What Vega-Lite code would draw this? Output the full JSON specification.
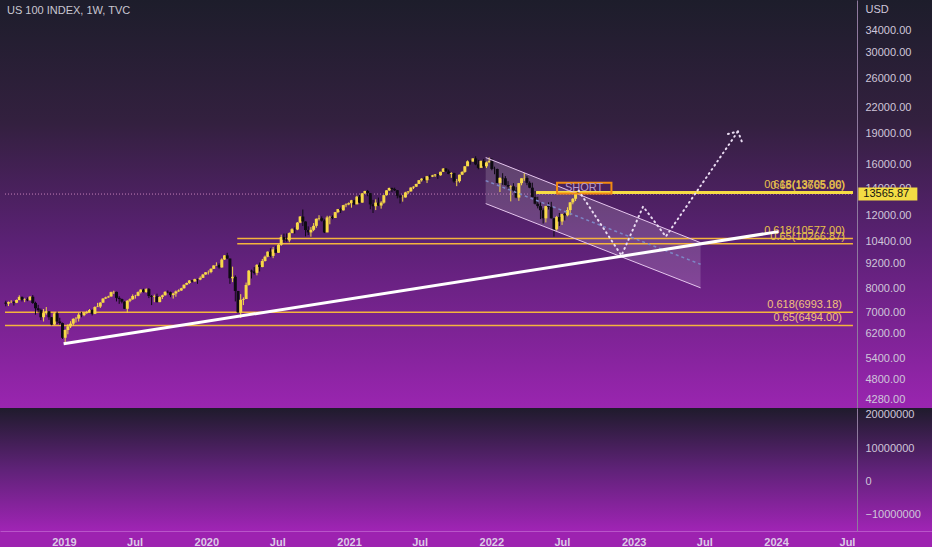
{
"$schema":"https://vega.github.io/schema/vega-lite/v6.json",
"padding":0,
"spacing":0,
"background":"#9d22b0",
"config":{"view":{"stroke":null},"font":"Liberation Sans","axis":{"grid":false,"labelFont":"Liberation Sans","labelFontSize":11,"labelColor":"#cfc6da","domainColor":"#8f7a9e","ticks":false,"tickSize":0}},
"datasets":{
"candles":[
{"d":"2018-07-23","o":7380,"h":7460,"l":7230,"c":7340},
{"d":"2018-07-30","o":7340,"h":7430,"l":7240,"c":7400},
{"d":"2018-08-06","o":7400,"h":7480,"l":7360,"c":7410},
{"d":"2018-08-13","o":7410,"h":7440,"l":7260,"c":7380},
{"d":"2018-08-20","o":7380,"h":7510,"l":7360,"c":7490},
{"d":"2018-08-27","o":7490,"h":7690,"l":7480,"c":7620},
{"d":"2018-09-03","o":7620,"h":7640,"l":7430,"c":7500},
{"d":"2018-09-10","o":7500,"h":7560,"l":7400,"c":7520},
{"d":"2018-09-17","o":7520,"h":7600,"l":7440,"c":7480},
{"d":"2018-09-24","o":7480,"h":7660,"l":7470,"c":7630},
{"d":"2018-10-01","o":7630,"h":7700,"l":7330,"c":7370},
{"d":"2018-10-08","o":7370,"h":7420,"l":6900,"c":7150},
{"d":"2018-10-15","o":7150,"h":7290,"l":6980,"c":7080},
{"d":"2018-10-22","o":7080,"h":7140,"l":6690,"c":6800},
{"d":"2018-10-29","o":6800,"h":7120,"l":6640,"c":6960},
{"d":"2018-11-05","o":6960,"h":7200,"l":6900,"c":7030},
{"d":"2018-11-12","o":7030,"h":7040,"l":6700,"c":6800},
{"d":"2018-11-19","o":6800,"h":6810,"l":6500,"c":6530},
{"d":"2018-11-26","o":6530,"h":6990,"l":6510,"c":6950},
{"d":"2018-12-03","o":6950,"h":7020,"l":6540,"c":6640},
{"d":"2018-12-10","o":6640,"h":6780,"l":6520,"c":6580},
{"d":"2018-12-17","o":6580,"h":6600,"l":6020,"c":6060},
{"d":"2018-12-24","o":6060,"h":6350,"l":5895,"c":6330},
{"d":"2018-12-31","o":6330,"h":6540,"l":6180,"c":6460},
{"d":"2019-01-07","o":6460,"h":6650,"l":6400,"c":6560},
{"d":"2019-01-14","o":6560,"h":6760,"l":6490,"c":6740},
{"d":"2019-01-21","o":6740,"h":6810,"l":6600,"c":6750},
{"d":"2019-01-28","o":6750,"h":6960,"l":6640,"c":6900},
{"d":"2019-02-04","o":6900,"h":7010,"l":6800,"c":6880},
{"d":"2019-02-11","o":6880,"h":6990,"l":6840,"c":6960},
{"d":"2019-02-18","o":6960,"h":7050,"l":6930,"c":7000},
{"d":"2019-02-25","o":7000,"h":7120,"l":6980,"c":7080},
{"d":"2019-03-04","o":7080,"h":7110,"l":6870,"c":6930},
{"d":"2019-03-11","o":6930,"h":7230,"l":6920,"c":7200},
{"d":"2019-03-18","o":7200,"h":7370,"l":7200,"c":7220},
{"d":"2019-03-25","o":7220,"h":7400,"l":7160,"c":7380},
{"d":"2019-04-01","o":7380,"h":7570,"l":7370,"c":7550},
{"d":"2019-04-08","o":7550,"h":7630,"l":7530,"c":7600},
{"d":"2019-04-15","o":7600,"h":7670,"l":7580,"c":7640},
{"d":"2019-04-22","o":7640,"h":7850,"l":7630,"c":7830},
{"d":"2019-04-29","o":7830,"h":7890,"l":7750,"c":7840},
{"d":"2019-05-06","o":7840,"h":7850,"l":7430,"c":7580},
{"d":"2019-05-13","o":7580,"h":7650,"l":7330,"c":7530},
{"d":"2019-05-20","o":7530,"h":7550,"l":7350,"c":7420},
{"d":"2019-05-27","o":7420,"h":7440,"l":7120,"c":7130},
{"d":"2019-06-03","o":7130,"h":7480,"l":6980,"c":7460},
{"d":"2019-06-10","o":7460,"h":7560,"l":7400,"c":7520},
{"d":"2019-06-17","o":7520,"h":7730,"l":7500,"c":7660},
{"d":"2019-06-24","o":7660,"h":7710,"l":7550,"c":7670},
{"d":"2019-07-01","o":7670,"h":7860,"l":7650,"c":7830},
{"d":"2019-07-08","o":7830,"h":7960,"l":7770,"c":7940},
{"d":"2019-07-15","o":7940,"h":7980,"l":7810,"c":7830},
{"d":"2019-07-22","o":7830,"h":8000,"l":7800,"c":7960},
{"d":"2019-07-29","o":7960,"h":8010,"l":7570,"c":7660},
{"d":"2019-08-05","o":7660,"h":7700,"l":7280,"c":7620},
{"d":"2019-08-12","o":7620,"h":7720,"l":7400,"c":7650},
{"d":"2019-08-19","o":7650,"h":7760,"l":7390,"c":7400},
{"d":"2019-08-26","o":7400,"h":7640,"l":7400,"c":7620},
{"d":"2019-09-02","o":7620,"h":7720,"l":7530,"c":7690},
{"d":"2019-09-09","o":7690,"h":7870,"l":7680,"c":7840},
{"d":"2019-09-16","o":7840,"h":7900,"l":7780,"c":7820},
{"d":"2019-09-23","o":7820,"h":7850,"l":7610,"c":7700},
{"d":"2019-09-30","o":7700,"h":7800,"l":7550,"c":7770},
{"d":"2019-10-07","o":7770,"h":7900,"l":7630,"c":7860},
{"d":"2019-10-14","o":7860,"h":7950,"l":7840,"c":7900},
{"d":"2019-10-21","o":7900,"h":8020,"l":7880,"c":8000},
{"d":"2019-10-28","o":8000,"h":8170,"l":7980,"c":8160},
{"d":"2019-11-04","o":8160,"h":8260,"l":8140,"c":8240},
{"d":"2019-11-11","o":8240,"h":8370,"l":8200,"c":8360},
{"d":"2019-11-18","o":8360,"h":8370,"l":8260,"c":8310},
{"d":"2019-11-25","o":8310,"h":8440,"l":8300,"c":8420},
{"d":"2019-12-02","o":8420,"h":8440,"l":8200,"c":8400},
{"d":"2019-12-09","o":8400,"h":8550,"l":8370,"c":8480},
{"d":"2019-12-16","o":8480,"h":8670,"l":8480,"c":8640},
{"d":"2019-12-23","o":8640,"h":8760,"l":8630,"c":8750},
{"d":"2019-12-30","o":8750,"h":8840,"l":8640,"c":8760},
{"d":"2020-01-06","o":8760,"h":8950,"l":8700,"c":8920},
{"d":"2020-01-13","o":8920,"h":9100,"l":8910,"c":9090},
{"d":"2020-01-20","o":9090,"h":9250,"l":9080,"c":9110},
{"d":"2020-01-27","o":9110,"h":9200,"l":8930,"c":8990},
{"d":"2020-02-03","o":8990,"h":9460,"l":8980,"c":9400},
{"d":"2020-02-10","o":9400,"h":9630,"l":9380,"c":9620},
{"d":"2020-02-17","o":9620,"h":9760,"l":9420,"c":9450},
{"d":"2020-02-24","o":9450,"h":9450,"l":8200,"c":8460},
{"d":"2020-03-02","o":8460,"h":9030,"l":8280,"c":8530},
{"d":"2020-03-09","o":8530,"h":8600,"l":7430,"c":7880},
{"d":"2020-03-16","o":7880,"h":7600,"l":6960,"c":6990},
{"d":"2020-03-23","o":6990,"h":7740,"l":6771,"c":7500},
{"d":"2020-03-30","o":7500,"h":7600,"l":7280,"c":7530},
{"d":"2020-04-06","o":7530,"h":8260,"l":7660,"c":8150},
{"d":"2020-04-13","o":8150,"h":8860,"l":8120,"c":8830},
{"d":"2020-04-20","o":8830,"h":8880,"l":8450,"c":8790},
{"d":"2020-04-27","o":8790,"h":9010,"l":8640,"c":8720},
{"d":"2020-05-04","o":8720,"h":9160,"l":8600,"c":9120},
{"d":"2020-05-11","o":9120,"h":9240,"l":8790,"c":9010},
{"d":"2020-05-18","o":9010,"h":9430,"l":9000,"c":9320},
{"d":"2020-05-25","o":9320,"h":9610,"l":9290,"c":9550},
{"d":"2020-06-01","o":9550,"h":9840,"l":9520,"c":9820},
{"d":"2020-06-08","o":9820,"h":10010,"l":9520,"c":9590},
{"d":"2020-06-15","o":9590,"h":10080,"l":9470,"c":9950},
{"d":"2020-06-22","o":9950,"h":10130,"l":9750,"c":9760},
{"d":"2020-06-29","o":9760,"h":10240,"l":9750,"c":10210},
{"d":"2020-07-06","o":10210,"h":10800,"l":10150,"c":10660},
{"d":"2020-07-13","o":10660,"h":10870,"l":10350,"c":10500},
{"d":"2020-07-20","o":10500,"h":10880,"l":10390,"c":10460},
{"d":"2020-07-27","o":10460,"h":10940,"l":10350,"c":10900},
{"d":"2020-08-03","o":10900,"h":11200,"l":10890,"c":11140},
{"d":"2020-08-10","o":11140,"h":11250,"l":10870,"c":11120},
{"d":"2020-08-17","o":11120,"h":11600,"l":11080,"c":11560},
{"d":"2020-08-24","o":11560,"h":11990,"l":11520,"c":11960},
{"d":"2020-08-31","o":11960,"h":12440,"l":11340,"c":11630},
{"d":"2020-09-07","o":11630,"h":11640,"l":10700,"c":11090},
{"d":"2020-09-14","o":11090,"h":11320,"l":10780,"c":10940},
{"d":"2020-09-21","o":10940,"h":11270,"l":10680,"c":11100},
{"d":"2020-09-28","o":11100,"h":11530,"l":11020,"c":11350},
{"d":"2020-10-05","o":11350,"h":11830,"l":11230,"c":11810},
{"d":"2020-10-12","o":11810,"h":12050,"l":11700,"c":11850},
{"d":"2020-10-19","o":11850,"h":11970,"l":11630,"c":11690},
{"d":"2020-10-26","o":11690,"h":11770,"l":10900,"c":10940},
{"d":"2020-11-02","o":10940,"h":12010,"l":10950,"c":11900},
{"d":"2020-11-09","o":11900,"h":12010,"l":11450,"c":11940},
{"d":"2020-11-16","o":11940,"h":12040,"l":11780,"c":11860},
{"d":"2020-11-23","o":11860,"h":12270,"l":11890,"c":12260},
{"d":"2020-11-30","o":12260,"h":12480,"l":12190,"c":12470},
{"d":"2020-12-07","o":12470,"h":12580,"l":12200,"c":12380},
{"d":"2020-12-14","o":12380,"h":12770,"l":12370,"c":12750},
{"d":"2020-12-21","o":12750,"h":12880,"l":12600,"c":12800},
{"d":"2020-12-28","o":12800,"h":12950,"l":12740,"c":12890},
{"d":"2021-01-04","o":12890,"h":13130,"l":12570,"c":13100},
{"d":"2021-01-11","o":13100,"h":13130,"l":12760,"c":12800},
{"d":"2021-01-18","o":12800,"h":13440,"l":12880,"c":13370},
{"d":"2021-01-25","o":13370,"h":13500,"l":12900,"c":12930},
{"d":"2021-02-01","o":12930,"h":13650,"l":12920,"c":13620},
{"d":"2021-02-08","o":13620,"h":13820,"l":13570,"c":13800},
{"d":"2021-02-15","o":13800,"h":13880,"l":13400,"c":13640},
{"d":"2021-02-22","o":13640,"h":13640,"l":12460,"c":12800},
{"d":"2021-03-01","o":12800,"h":13130,"l":12200,"c":12670},
{"d":"2021-03-08","o":12670,"h":13170,"l":12400,"c":12930},
{"d":"2021-03-15","o":12930,"h":13300,"l":12680,"c":12720},
{"d":"2021-03-22","o":12720,"h":13030,"l":12500,"c":12930},
{"d":"2021-03-29","o":12930,"h":13500,"l":12850,"c":13480},
{"d":"2021-04-05","o":13480,"h":13860,"l":13450,"c":13850},
{"d":"2021-04-12","o":13850,"h":14060,"l":13800,"c":14040},
{"d":"2021-04-19","o":14040,"h":14060,"l":13730,"c":13950},
{"d":"2021-04-26","o":13950,"h":14060,"l":13800,"c":13860},
{"d":"2021-05-03","o":13860,"h":13870,"l":13240,"c":13440},
{"d":"2021-05-10","o":13440,"h":13530,"l":12870,"c":13300},
{"d":"2021-05-17","o":13300,"h":13500,"l":13000,"c":13310},
{"d":"2021-05-24","o":13310,"h":13740,"l":13300,"c":13690},
{"d":"2021-05-31","o":13690,"h":13800,"l":13560,"c":13770},
{"d":"2021-06-07","o":13770,"h":14090,"l":13750,"c":14070},
{"d":"2021-06-14","o":14070,"h":14170,"l":13950,"c":14140},
{"d":"2021-06-21","o":14140,"h":14370,"l":14110,"c":14360},
{"d":"2021-06-28","o":14360,"h":14680,"l":14350,"c":14660},
{"d":"2021-07-05","o":14660,"h":14830,"l":14550,"c":14790},
{"d":"2021-07-12","o":14790,"h":14940,"l":14630,"c":14660},
{"d":"2021-07-19","o":14660,"h":15020,"l":14430,"c":15000},
{"d":"2021-07-26","o":15000,"h":15120,"l":14760,"c":14960},
{"d":"2021-08-02","o":14960,"h":15110,"l":14920,"c":15060},
{"d":"2021-08-09","o":15060,"h":15170,"l":14930,"c":15150},
{"d":"2021-08-16","o":15150,"h":15180,"l":14770,"c":15070},
{"d":"2021-08-23","o":15070,"h":15380,"l":15040,"c":15370},
{"d":"2021-08-30","o":15370,"h":15700,"l":15350,"c":15650},
{"d":"2021-09-06","o":15650,"h":15700,"l":15380,"c":15400},
{"d":"2021-09-13","o":15400,"h":15560,"l":15160,"c":15180},
{"d":"2021-09-20","o":15180,"h":15330,"l":14860,"c":15260},
{"d":"2021-09-27","o":15260,"h":15290,"l":14450,"c":14560},
{"d":"2021-10-04","o":14560,"h":14770,"l":14180,"c":14580},
{"d":"2021-10-11","o":14580,"h":15130,"l":14460,"c":15120},
{"d":"2021-10-18","o":15120,"h":15420,"l":15090,"c":15360},
{"d":"2021-10-25","o":15360,"h":15880,"l":15280,"c":15850},
{"d":"2021-11-01","o":15850,"h":16380,"l":15880,"c":16300},
{"d":"2021-11-08","o":16300,"h":16400,"l":16000,"c":16280},
{"d":"2021-11-15","o":16280,"h":16580,"l":16250,"c":16570},
{"d":"2021-11-22","o":16570,"h":16765,"l":15950,"c":16020},
{"d":"2021-11-29","o":16020,"h":16430,"l":15590,"c":15710},
{"d":"2021-12-06","o":15710,"h":16380,"l":15800,"c":16330},
{"d":"2021-12-13","o":16330,"h":16520,"l":15680,"c":15850},
{"d":"2021-12-20","o":15850,"h":16280,"l":15700,"c":16200},
{"d":"2021-12-27","o":16200,"h":16660,"l":16190,"c":16320},
{"d":"2022-01-03","o":16320,"h":16600,"l":15500,"c":15620},
{"d":"2022-01-10","o":15620,"h":15820,"l":15160,"c":15610},
{"d":"2022-01-17","o":15610,"h":15650,"l":14420,"c":14440},
{"d":"2022-01-24","o":14440,"h":14880,"l":13720,"c":14860},
{"d":"2022-01-31","o":14860,"h":15250,"l":14290,"c":14820},
{"d":"2022-02-07","o":14820,"h":15000,"l":14230,"c":14270},
{"d":"2022-02-14","o":14270,"h":14580,"l":13960,"c":14140},
{"d":"2022-02-21","o":14140,"h":14250,"l":13020,"c":14170},
{"d":"2022-02-28","o":14170,"h":14420,"l":13720,"c":13840},
{"d":"2022-03-07","o":13840,"h":14100,"l":13250,"c":13300},
{"d":"2022-03-14","o":13300,"h":14440,"l":13060,"c":14420},
{"d":"2022-03-21","o":14420,"h":14820,"l":14250,"c":14820},
{"d":"2022-03-28","o":14820,"h":15260,"l":14610,"c":14850},
{"d":"2022-04-04","o":14850,"h":15000,"l":14260,"c":14450},
{"d":"2022-04-11","o":14450,"h":14570,"l":14020,"c":14060},
{"d":"2022-04-18","o":14060,"h":14460,"l":13330,"c":13350},
{"d":"2022-04-25","o":13350,"h":13800,"l":12800,"c":12850},
{"d":"2022-05-02","o":12850,"h":13360,"l":12520,"c":12680},
{"d":"2022-05-09","o":12680,"h":12940,"l":11790,"c":12390},
{"d":"2022-05-16","o":12390,"h":12520,"l":11500,"c":11840},
{"d":"2022-05-23","o":11840,"h":12700,"l":11570,"c":12680},
{"d":"2022-05-30","o":12680,"h":12950,"l":12440,"c":12620},
{"d":"2022-06-06","o":12620,"h":12990,"l":11830,"c":11840},
{"d":"2022-06-13","o":11840,"h":11870,"l":10690,"c":11130},
{"d":"2022-06-20","o":11130,"h":12000,"l":11050,"c":11930},
{"d":"2022-06-27","o":11930,"h":12200,"l":11340,"c":11630},
{"d":"2022-07-04","o":11630,"h":12150,"l":11410,"c":12130},
{"d":"2022-07-11","o":12130,"h":12200,"l":11700,"c":12040},
{"d":"2022-07-18","o":12040,"h":12600,"l":11970,"c":12400},
{"d":"2022-07-25","o":12400,"h":12970,"l":12050,"c":12950},
{"d":"2022-08-01","o":12950,"h":13270,"l":12810,"c":13210},
{"d":"2022-08-08","o":13210,"h":13730,"l":13050,"c":13700},
{"d":"2022-08-15","o":13700,"h":13720,"l":13500,"c":13566}
],
"fibLow":[{"label":"0.618(6993.18)","d":"2018-07-21","e":"2024-07-27","p":6993.18},{"label":"0.65(6494.00)","d":"2018-07-21","e":"2024-07-27","p":6494}],
"fibMid":[{"label":"0.618(10577.00)","d":"2020-03-14","e":"2024-07-27","p":10577},{"label":"0.65(10266.87)","d":"2020-03-14","e":"2024-07-27","p":10266.87}],
"fibTop":[{"label":"0.618(13705.00)","d":"2022-04-28","e":"2024-07-27","p":13705},{"label":"0.65(13665.86)","d":"2022-04-28","e":"2024-07-27","p":13665.86}],
"lastPrice":[{"d":"2018-07-21","p":13565.87},{"d":"2024-07-27","p":13565.87}],
"trend":[{"d":"2018-12-20","p":5860},{"d":"2024-01-16","p":10990}],
"channel":[{"d":"2021-12-18","hi":16650,"lo":12860,"mid":14630},{"d":"2023-06-28","hi":10330,"lo":8020,"mid":9150}],
"path":[{"d":"2022-08-16","p":13830},{"d":"2022-12-05","p":9610},{"d":"2023-01-30","p":12650},{"d":"2023-03-30","p":10690},{"d":"2023-10-03","p":19280}],
"arrow":[{"d":"2023-09-07","p":18990},{"d":"2023-10-03","p":19280},{"d":"2023-10-13","p":18210}],
"short":[{"d":"2022-06-21","e":"2022-11-09","top":14460,"bot":13610,"m":"2022-08-30","py":14030,"label":"SHORT"}],
"tag":[{"d":"2024-08-10","e":"2025-01-10","top":14080,"bot":13090,"p":13565.87,"label":"13565.87"}]
},
"vconcat":[
{
"width":932,"height":408,
"view":{"stroke":null,"fill":{"gradient":"linear","x1":0,"y1":0,"x2":0,"y2":1,"stops":[{"offset":0,"color":"#1d1d2b"},{"offset":0.3,"color":"#33203f"},{"offset":0.6,"color":"#5c2176"},{"offset":1,"color":"#9a25b0"}]}},
"title":{"text":"US 100 INDEX, 1W, TVC","anchor":"start","frame":"group","offset":-16,"dx":7,"color":"#c9c7d1","fontSize":11,"font":"Liberation Sans","fontWeight":"normal"},
"encoding":{"x":{"field":"d","type":"temporal","scale":{"domain":[{"year":2018,"month":7,"date":21,"utc":true},{"year":2025,"month":2,"date":4,"utc":true}]},"axis":null}},
"layer":[
{"data":{"name":"channel"},"mark":{"type":"area","color":"#ffffff","opacity":0.16},
 "encoding":{"y":{"field":"hi","type":"quantitative","scale":{"type":"log","domain":[4088,40270],"nice":false,"zero":false},
   "axis":{"orient":"right","offset":-75,"values":[4280,4800,5400,6200,7000,8000,9200,10400,12000,14000,16000,19000,22000,26000,30000,34000],"format":".2f","labelOverlap":false,"labelPadding":8,"labelAlign":"left","title":"USD","titleAngle":0,"titleAlign":"left","titleBaseline":"middle","titleX":8,"titleY":9,"titleColor":"#cfc6da","titleFont":"Liberation Sans","titleFontSize":11,"titleFontWeight":"normal","domain":true,"labels":true}},
  "y2":{"field":"lo"}}},
{"data":{"name":"fibLow"},"mark":{"type":"rule","color":"#f4b43c","strokeWidth":1.5},
 "encoding":{"x2":{"field":"e"},"y":{"field":"p","type":"quantitative"}}},
{"data":{"name":"fibMid"},"mark":{"type":"rule","color":"#f4b43c","strokeWidth":1.5},
 "encoding":{"x2":{"field":"e"},"y":{"field":"p","type":"quantitative"}}},
{"data":{"name":"lastPrice"},"mark":{"type":"line","color":"#d98fc8","strokeWidth":1,"strokeDash":[1,2],"opacity":0.85},
 "encoding":{"y":{"field":"p","type":"quantitative"}}},
{"data":{"name":"fibTop"},"mark":{"type":"rule","color":"#f6dc45","strokeWidth":2.5},
 "encoding":{"x2":{"field":"e"},"y":{"field":"p","type":"quantitative"}}},
{"data":{"name":"candles"},"mark":{"type":"rule","strokeWidth":1},
 "encoding":{"y":{"field":"l","type":"quantitative"},"y2":{"field":"h"},
  "color":{"condition":{"test":"datum.c >= datum.o","value":"#f7d848"},"value":"#0e0b12"}}},
{"data":{"name":"candles"},"mark":{"type":"bar","size":3},
 "encoding":{"y":{"field":"o","type":"quantitative"},"y2":{"field":"c"},
  "color":{"condition":{"test":"datum.c >= datum.o","value":"#f7d848"},"value":"#0e0b12"}}},
{"data":{"name":"channel"},"mark":{"type":"line","color":"#e6c6ee","strokeWidth":1},
 "encoding":{"y":{"field":"hi","type":"quantitative"}}},
{"data":{"name":"channel"},"mark":{"type":"line","color":"#e6c6ee","strokeWidth":1},
 "encoding":{"y":{"field":"lo","type":"quantitative"}}},
{"data":{"name":"channel"},"mark":{"type":"line","color":"#7d86c6","strokeWidth":1.5,"strokeDash":[3,3]},
 "encoding":{"y":{"field":"mid","type":"quantitative"}}},
{"data":{"name":"short"},"mark":{"type":"rect","fill":null,"fillOpacity":0,"stroke":"#f28a12","strokeWidth":2},
 "encoding":{"x2":{"field":"e"},"y":{"field":"top","type":"quantitative"},"y2":{"field":"bot"}}},
{"data":{"name":"short"},"mark":{"type":"text","color":"#b99bca","fontSize":11,"font":"Liberation Sans","align":"center","baseline":"middle"},
 "encoding":{"x":{"field":"m","type":"temporal"},"y":{"field":"py","type":"quantitative"},"text":{"field":"label"}}},
{"data":{"name":"fibLow"},"mark":{"type":"text","color":"#f3c07c","fontSize":11,"font":"Liberation Sans","align":"right","baseline":"bottom","dx":-11,"dy":-2},
 "encoding":{"x":{"field":"e","type":"temporal"},"y":{"field":"p","type":"quantitative"},"text":{"field":"label"}}},
{"data":{"name":"fibMid"},"mark":{"type":"text","color":"#e9c24a","fontSize":11,"font":"Liberation Sans","align":"right","baseline":"bottom","dx":-8,"dy":-2},
 "encoding":{"x":{"field":"e","type":"temporal"},"y":{"field":"p","type":"quantitative"},"text":{"field":"label"}}},
{"data":{"name":"fibTop"},"mark":{"type":"text","color":"#e9c24a","fontSize":11,"font":"Liberation Sans","align":"right","baseline":"bottom","dx":-8,"dy":-2},
 "encoding":{"x":{"field":"e","type":"temporal"},"y":{"field":"p","type":"quantitative"},"text":{"field":"label"}}},
{"data":{"name":"trend"},"mark":{"type":"line","color":"#ffffff","strokeWidth":3},
 "encoding":{"y":{"field":"p","type":"quantitative"}}},
{"data":{"name":"path"},"mark":{"type":"line","color":"#eadcf2","strokeWidth":2,"strokeDash":[1,4],"strokeCap":"round"},
 "encoding":{"y":{"field":"p","type":"quantitative"}}},
{"data":{"name":"arrow"},"mark":{"type":"line","color":"#eadcf2","strokeWidth":2,"strokeDash":[1,4],"strokeCap":"round"},
 "encoding":{"y":{"field":"p","type":"quantitative"}}},
{"data":{"name":"tag"},"mark":{"type":"rect","color":"#f3dc44"},
 "encoding":{"x2":{"field":"e"},"y":{"field":"top","type":"quantitative"},"y2":{"field":"bot"}}},
{"data":{"name":"tag"},"mark":{"type":"text","color":"#111111","fontSize":11,"font":"Liberation Sans","align":"left","baseline":"middle","dx":5},
 "encoding":{"y":{"field":"p","type":"quantitative"},"text":{"field":"label"}}}
]
},
{
"width":932,"height":123,
"view":{"stroke":null,"fill":{"gradient":"linear","x1":0,"y1":0,"x2":0,"y2":1,"stops":[{"offset":0,"color":"#1f1b2c"},{"offset":0.5,"color":"#5f2278"},{"offset":1,"color":"#a024b5"}]}},
"data":{"values":[{"d":"2020-01-01","v":0}]},
"mark":{"type":"point","opacity":0},
"encoding":{
"x":{"field":"d","type":"temporal","scale":{"domain":[{"year":2018,"month":7,"date":21,"utc":true},{"year":2025,"month":2,"date":4,"utc":true}]},
 "axis":{"title":null,"values":[{"year":2019,"month":1,"date":1,"utc":true},{"year":2019,"month":7,"date":1,"utc":true},{"year":2020,"month":1,"date":1,"utc":true},{"year":2020,"month":7,"date":1,"utc":true},{"year":2021,"month":1,"date":1,"utc":true},{"year":2021,"month":7,"date":1,"utc":true},{"year":2022,"month":1,"date":1,"utc":true},{"year":2022,"month":7,"date":1,"utc":true},{"year":2023,"month":1,"date":1,"utc":true},{"year":2023,"month":7,"date":1,"utc":true},{"year":2024,"month":1,"date":1,"utc":true},{"year":2024,"month":7,"date":1,"utc":true}],
 "labelExpr":"utcFormat(datum.value, '%m') == '01' ? utcFormat(datum.value, '%Y') : 'Jul'","labelColor":"#dccbe6","domainColor":"#b955c9","labelPadding":5,"labelFontWeight":"bold"}},
"y":{"field":"v","type":"quantitative","scale":{"domain":[-14850000,22100000],"nice":false,"zero":false},
 "axis":{"orient":"right","offset":-75,"values":[-10000000,0,10000000,20000000],"format":"d","title":null,"labelPadding":8,"labelAlign":"left","labelOverlap":false}}
}
}
]
}
